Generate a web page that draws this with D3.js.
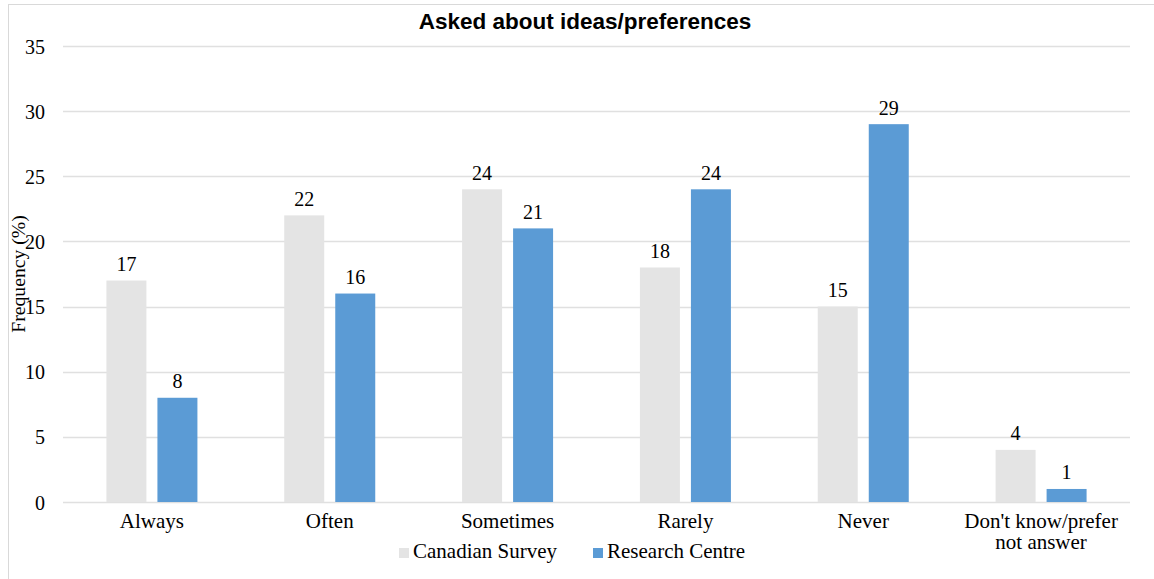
<!DOCTYPE html>
<html><head><meta charset="utf-8">
<script src="https://cdn.jsdelivr.net/npm/d3@7"></script>
<style>body{margin:0;background:#fff}</style>
</head><body>
<svg id="c" width="1154" height="579"></svg>
<script>
const categories = ["Always","Often","Sometimes","Rarely","Never","Don't know/prefer|not answer"];
const canadianSurvey = [17,22,24,18,15,4];
const researchCentre = [8,16,21,24,29,1];
const yTicks = [0,5,10,15,20,25,30,35];
const seriesNames = ["Canadian Survey","Research Centre"];
const colors = ["#e4e4e4","#5b9bd5"];

const serif = "Liberation Serif, Times New Roman, serif";
const svg = d3.select("#c");
svg.append("rect").attr("x",8.5).attr("y",4.5).attr("width",1160).attr("height",590)
  .attr("fill","#fff").attr("stroke","#d9d9d9");

const x = d3.scaleBand().domain(categories).range([63,1130]).paddingInner(0).paddingOuter(0);
const y = d3.scaleLinear().domain([0,35]).range([502,46]);
const half = x.bandwidth()/2;
const xs = d3.scaleBand().domain([0,1]).range([half-45.5, half+45.5]).paddingInner(0.216).paddingOuter(0);

// gridlines
svg.append("g").selectAll("line").data(yTicks).join("line")
  .attr("x1",63).attr("x2",1130).attr("y1",d=>Math.round(y(d))+0.5).attr("y2",d=>Math.round(y(d))+0.5)
  .attr("stroke","#e0e0e0").attr("stroke-width",1.5);

// y axis labels
const yAxis = d3.axisLeft(y).tickValues(yTicks).tickSize(0).tickPadding(0);
const ga = svg.append("g").attr("transform","translate(45,0)").call(yAxis);
ga.select(".domain").remove();
ga.selectAll("text").attr("font-family",serif).attr("font-size",20).attr("fill","#000").attr("dy","0.35em");

const series = [canadianSurvey, researchCentre];
series.forEach((vals,si)=>{
  const g = svg.append("g");
  g.selectAll("rect").data(vals).join("rect")
    .attr("x",(d,i)=>x(categories[i])+xs(si))
    .attr("width",xs.bandwidth())
    .attr("y",d=>y(d)).attr("height",d=>y(0)-y(d))
    .attr("fill",colors[si]);
  g.selectAll("text").data(vals).join("text")
    .attr("x",(d,i)=>x(categories[i])+xs(si)+xs.bandwidth()/2)
    .attr("y",d=>y(d)-9.5)
    .attr("text-anchor","middle")
    .attr("font-family",serif).attr("font-size",20).attr("fill","#000")
    .text(d=>d);
});

// x labels
const xl = svg.append("g").selectAll("text").data(categories).join("text")
  .attr("x",d=>x(d)+half).attr("y",528)
  .attr("text-anchor","middle")
  .attr("font-family",serif).attr("font-size",21).attr("fill","#000");
xl.each(function(d){
  const parts = d.split("|");
  d3.select(this).selectAll("tspan").data(parts).join("tspan")
    .attr("x",x(d)+half).attr("dy",(p,i)=>i===0?0:20.5).text(p=>p);
});

// title
svg.append("text").attr("x",585).attr("y",29).attr("text-anchor","middle")
  .attr("font-family","Liberation Sans, Arial, sans-serif").attr("font-weight","bold").attr("font-size",22.5)
  .text("Asked about ideas/preferences");

// y title
svg.append("text").attr("transform","translate(25,274) rotate(-90)").attr("text-anchor","middle")
  .attr("font-family",serif).attr("font-size",19.7).text("Frequency (%)");

// legend
const legX = [399,593];
const lg = svg.append("g").selectAll("g").data(seriesNames).join("g")
  .attr("transform",(d,i)=>`translate(${legX[i]},558)`);
lg.append("rect").attr("x",0).attr("y",-10).attr("width",10).attr("height",10).attr("fill",(d,i)=>colors[i]);
lg.append("text").attr("x",14).attr("y",0)
  .attr("font-family",serif).attr("font-size",21).text(d=>d);
</script>
</body></html>
